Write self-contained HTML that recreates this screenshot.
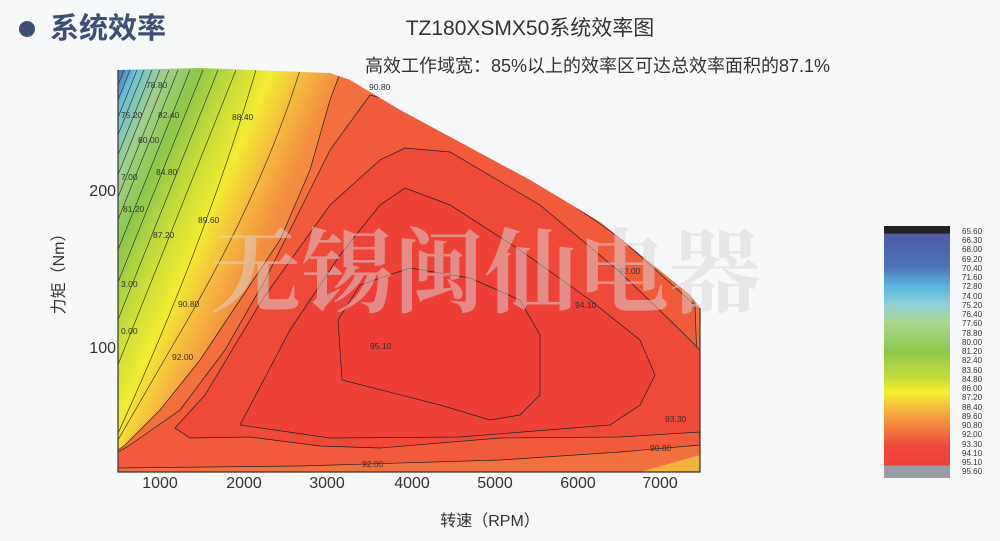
<!DOCTYPE html>
<html><head><meta charset="utf-8"><style>
body{margin:0;background:#f7f8fa;}
svg{display:block}
text{font-family:"Liberation Sans","Noto Sans CJK SC",sans-serif;}
</style></head><body>
<svg width="1000" height="541" viewBox="0 0 1000 541" xmlns="http://www.w3.org/2000/svg">
<defs>
<clipPath id="c"><path d="M118,70 L200,68 L330,73 L350,80 L400,110 L530,180 L600,222 L690,295 L700,308 L700,472 L118,472 Z"/></clipPath>
<linearGradient id="g" gradientUnits="userSpaceOnUse" x1="118" y1="70" x2="368" y2="180">
<stop offset="0" stop-color="#4670b8"/>
<stop offset="0.06" stop-color="#6cc0d8"/>
<stop offset="0.16" stop-color="#9fd08a"/>
<stop offset="0.27" stop-color="#8cc84a"/>
<stop offset="0.40" stop-color="#c8dc38"/>
<stop offset="0.52" stop-color="#f2ec30"/>
<stop offset="0.63" stop-color="#f6b840"/>
<stop offset="0.74" stop-color="#f3903e"/>
<stop offset="1" stop-color="#f2703e"/>
</linearGradient>
<linearGradient id="lg" x1="0" y1="0" x2="0" y2="1">
<stop offset="0" stop-color="#222"/><stop offset="0.03" stop-color="#222"/>
<stop offset="0.031" stop-color="#4d5aa8"/><stop offset="0.16" stop-color="#4c73b8"/>
<stop offset="0.24" stop-color="#58b6df"/><stop offset="0.31" stop-color="#8fd0d8"/>
<stop offset="0.38" stop-color="#a8d890"/><stop offset="0.5" stop-color="#8cc94a"/>
<stop offset="0.6" stop-color="#c2dc3a"/><stop offset="0.66" stop-color="#f6f02a"/>
<stop offset="0.73" stop-color="#f5b440"/><stop offset="0.8" stop-color="#f2803e"/>
<stop offset="0.87" stop-color="#ef4a3a"/><stop offset="0.95" stop-color="#ee4038"/>
<stop offset="0.951" stop-color="#9a9da4"/><stop offset="1" stop-color="#9a9da4"/>
</linearGradient>
</defs>
<circle cx="27" cy="29" r="8" fill="#3d4f72"/>
<text x="50" y="38" font-size="29" fill="#3d4f72" font-weight="bold">系统效率</text>
<text x="530" y="35" font-size="21" fill="#333" text-anchor="middle">TZ180XSMX50系统效率图</text>
<text x="365" y="72" font-size="18" fill="#333">高效工作域宽：85%以上的效率区可达总效率面积的87.1%</text>

<g clip-path="url(#c)">
<rect x="110" y="60" width="600" height="420" fill="url(#g)"/>
<g stroke="#222" stroke-width="0.7" fill="none" opacity="0.85">
<path d="M124,70 L-37,472"/><path d="M130,70 L-31,472"/><path d="M137,70 L-24,472"/><path d="M144,70 L-17,472"/>
<path d="M152,70 L-9,472"/><path d="M160,70 L-1,472"/><path d="M169,70 L8,472"/><path d="M178,70 L17,472"/>
<path d="M190,70 L29,472"/><path d="M203,70 L42,472"/><path d="M218,70 L57,472"/>
<path d="M236,70 L75,472"/><path d="M256,70 Q200,260 100,472"/>
<path d="M300,70 Q260,200 170,350 L118,440"/>
</g>
<path d="M345,60 L330,100 L310,170 L280,240 L240,300 L200,360 L160,410 L125,445 L118,450 L118,480 L720,480 L720,60 Z" fill="#f2703e" stroke="#222" stroke-width="0.7"/>
<path d="M640,472 L700,455 L700,480 L640,480 Z" fill="#f4b23c"/>
<path d="M370,95 L420,108 L520,168 L620,238 L695,305 L700,445 L620,452 L500,460 L300,466 L118,468 L118,452 L130,445 L180,410 L225,350 L265,280 L300,210 L330,150 Z" fill="#f15a3b" stroke="#222" stroke-width="0.7"/>
<path d="M175,428 L205,395 L262,300 L330,205 L380,160 L405,148 L450,152 L540,205 L620,272 L680,330 L700,350 L700,432 L620,437 L500,438 L380,448 L320,446 L250,437 L190,438 Z" fill="#ef4a39" stroke="#222" stroke-width="0.7"/>
<path d="M240,425 L290,330 L340,255 L380,205 L405,188 L450,205 L520,250 L590,300 L640,340 L655,375 L640,405 L610,425 L460,437 L330,438 Z" fill="#ee4238" stroke="#222" stroke-width="0.7"/>
<path d="M342,380 L338,320 L360,285 L410,268 L470,278 L520,300 L540,335 L540,395 L520,415 L490,420 L440,405 Z" fill="#ef3d37" stroke="#222" stroke-width="0.7"/>
</g>
<path d="M118,70 L118,472 L700,472 L700,308" fill="none" stroke="#333" stroke-width="1.2"/>

<g font-size="8.5" fill="#333">
<text x="146" y="88">78.80</text><text x="121" y="118">75.20</text><text x="158" y="118">82.40</text>
<text x="138" y="143">80.00</text><text x="232" y="120">88.40</text><text x="121" y="180">7.00</text>
<text x="156" y="175">84.80</text><text x="123" y="212">81.20</text><text x="198" y="223">89.60</text>
<text x="153" y="238">87.20</text><text x="121" y="287">3.00</text><text x="178" y="307">90.80</text>
<text x="121" y="334">0.00</text><text x="172" y="360">92.00</text><text x="369" y="90">90.80</text>
<text x="370" y="349">95.10</text><text x="619" y="274">92.00</text><text x="575" y="308">94.10</text>
<text x="665" y="422">93.30</text><text x="650" y="451">90.80</text><text x="362" y="467">92.00</text>
</g>

<text x="485" y="305" font-size="92" font-weight="bold" fill="#d8d8d8" opacity="0.5" text-anchor="middle" style="font-family:'Noto Serif CJK SC',serif">无锡闽仙电器</text>

<g font-size="16" fill="#333">
<text x="116" y="196" text-anchor="end">200</text>
<text x="116" y="353" text-anchor="end">100</text>
<text x="160" y="488" text-anchor="middle">1000</text><text x="244" y="488" text-anchor="middle">2000</text>
<text x="327" y="488" text-anchor="middle">3000</text><text x="412" y="488" text-anchor="middle">4000</text>
<text x="495" y="488" text-anchor="middle">5000</text><text x="578" y="488" text-anchor="middle">6000</text>
<text x="660" y="488" text-anchor="middle">7000</text>
<text x="490" y="526" text-anchor="middle">转速（RPM）</text>
<text transform="translate(64,270) rotate(-90)" text-anchor="middle">力矩（Nm）</text>
</g>

<rect x="884" y="226" width="66" height="252" fill="url(#lg)"/>
<g font-size="8" fill="#333">
<text x="962" y="234">65.60</text><text x="962" y="243">66.30</text><text x="962" y="252">68.00</text>
<text x="962" y="262">69.20</text><text x="962" y="271">70.40</text><text x="962" y="280">71.60</text>
<text x="962" y="289">72.80</text><text x="962" y="299">74.00</text><text x="962" y="308">75.20</text>
<text x="962" y="317">76.40</text><text x="962" y="326">77.60</text><text x="962" y="336">78.80</text>
<text x="962" y="345">80.00</text><text x="962" y="354">81.20</text><text x="962" y="363">82.40</text>
<text x="962" y="373">83.60</text><text x="962" y="382">84.80</text><text x="962" y="391">86.00</text>
<text x="962" y="400">87.20</text><text x="962" y="410">88.40</text><text x="962" y="419">89.60</text>
<text x="962" y="428">90.80</text><text x="962" y="437">92.00</text><text x="962" y="447">93.30</text>
<text x="962" y="456">94.10</text><text x="962" y="465">95.10</text><text x="962" y="474">95.60</text>
</g>
</svg>
</body></html>
